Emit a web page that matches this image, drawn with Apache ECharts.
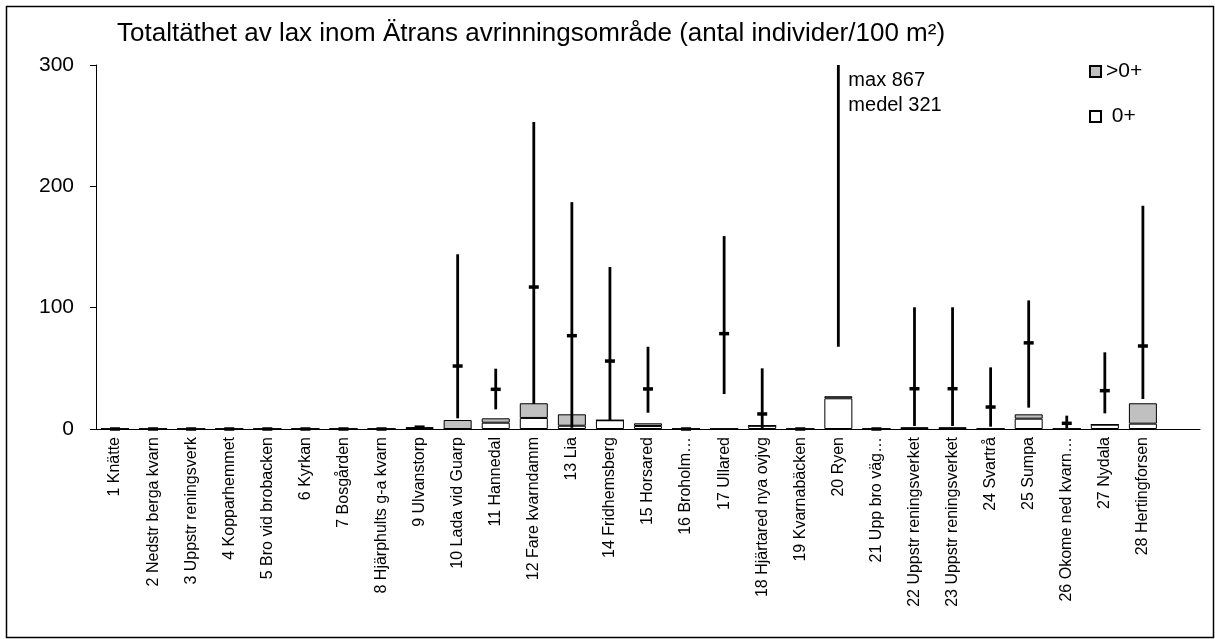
<!DOCTYPE html>
<html>
<head>
<meta charset="utf-8">
<script src="https://cdn.jsdelivr.net/npm/echarts@6/dist/echarts.min.js"></script>
<style>
  html, body { margin: 0; padding: 0; background: #fff; }
  #chart { width: 1215px; height: 639px; }
</style>
</head>
<body>
<div id="chart"></div>
<script>
// Sampling sites along Ätran (last slot left empty so the axis runs on past the final site)
const categories = [
  '1 Knätte', '2 Nedstr berga kvarn', '3 Uppstr reningsverk', '4 Kopparhemmet',
  '5 Bro vid brobacken', '6 Kyrkan', '7 Bosgården', '8 Hjärphults g-a kvarn',
  '9 Ulvanstorp', '10 Lada vid Guarp', '11 Hannedal', '12 Fare kvarndamm',
  '13 Lia', '14 Fridhemsberg', '15 Horsared', '16 Broholm…', '17 Ullared',
  '18 Hjärtared nya ovjvg', '19 Kvarnabäcken', '20 Ryen', '21 Upp bro väg…',
  '22 Uppstr reningsverket', '23 Uppstr reningsverket', '24 Svartrå', '25 Sumpa',
  '26 Okome ned kvarn…', '27 Nydala', '28 Hertingforsen', ''
];

// Density this year (individuals / 100 m²)
const fry = [0, 0, 0, 0, 0, 0, 0, 0, 0.5, 0, 5.2, 9.1, 2.7, 7.2, 2.5, 0, 0, 2.7, 0, 25.3, 0, 0.4, 0.4, 0, 8.5, 0, 3.6, 4.4];
const parr = [0, 0, 0, 0, 0, 0, 0, 0, 1.0, 7.4, 3.6, 12.1, 9.4, 0, 2.2, 0, 0, 0, 0, 1.7, 0, 1.0, 1.0, 0, 3.6, 0, 0, 16.8];

// Historical total density: min, max and mean per site
const histMin = [0, 0, 0, 0, 0, 0, 0, 0, 1.5, 8.8, 16.2, 20.6, 1, 7.2, 13.4, 0, 28.8, 0, 0, 67.8, 0, 2.5, 2.5, 1.9, 17.6, 0.8, 12.9, 24.7];
const histMax = [0, 0, 0, 0, 0, 0, 0, 0, 1.5, 144, 49.7, 253, 187, 133.5, 67.8, 0, 159, 50, 0, 867, 0, 100.3, 100.3, 50.8, 106, 11, 63.2, 184];
const histMean = [0, 0, 0, 0, 0, 0, 0, 0, 1.5, 51.9, 32.7, 117, 76.9, 56, 33, 0, 78.6, 12.4, 0, 321, 0, 33.2, 33.2, 18.1, 71, 4.7, 31.6, 68.4];

const yTicks = [0, 100, 200, 300];
const Y_MAX = yTicks[yTicks.length - 1];

const FONT = "'Liberation Sans', Arial, sans-serif";

const rangeData = histMin.map((lo, i) => [i, lo, histMax[i], histMean[i]]);

// Vertical min–max line with a short crossbar at the mean;
// values above the axis are cut at the top and written out beside the line.
function renderRange(params, api) {
  const i = api.value(0);
  const lo = api.value(1);
  const hi = api.value(2);
  const mean = api.value(3);
  const top = api.coord([i, Math.min(hi, Y_MAX)]);
  const bot = api.coord([i, lo]);
  const children = [{
    type: 'line',
    shape: { x1: bot[0], y1: bot[1], x2: top[0], y2: top[1] },
    style: { stroke: '#000', lineWidth: 2.8 }
  }];
  if (mean <= Y_MAX) {
    const m = api.coord([i, mean]);
    children.push({
      type: 'line',
      shape: { x1: m[0] - 5, y1: m[1], x2: m[0] + 5, y2: m[1] },
      style: { stroke: '#000', lineWidth: 3.5 }
    });
  }
  if (hi > Y_MAX) {
    children.push({
      type: 'text',
      x: top[0] + 10,
      y: top[1] + 3,
      style: {
        text: 'max ' + Math.round(hi) + '\nmedel ' + Math.round(mean),
        fill: '#000',
        font: '20px ' + FONT,
        lineHeight: 25,
        align: 'left',
        verticalAlign: 'top'
      }
    });
  }
  return { type: 'group', children: children };
}

const chart = echarts.init(document.getElementById('chart'), null, { renderer: 'canvas' });

chart.setOption({
  animation: false,
  backgroundColor: '#fff',
  textStyle: { fontFamily: FONT, color: '#000' },
  title: {
    text: 'Totaltäthet av lax inom Ätrans avrinningsområde (antal individer/100 m²)',
    left: 117,
    top: 21,
    padding: 0,
    textStyle: { fontFamily: FONT, fontSize: 26, fontWeight: 'normal', color: '#000' }
  },
  legend: {
    data: ['>0+', '0+'],
    orient: 'vertical',
    left: 1084,
    top: 56,
    itemWidth: 11,
    itemHeight: 11,
    itemGap: 24,
    icon: 'rect',
    formatter: name => (name === '0+' ? ' 0+' : name),
    textStyle: { fontFamily: FONT, fontSize: 21, color: '#000', padding: [0, 0, 0, 0] }
  },
  grid: { left: 96, right: 15, top: 65, bottom: 210, containLabel: false },
  xAxis: {
    type: 'category',
    data: categories,
    axisLine: { lineStyle: { color: '#000', width: 1 } },
    axisTick: { show: false },
    axisLabel: {
      interval: 0,
      rotate: 90,
      margin: 8,
      fontFamily: FONT,
      fontSize: 16,
      color: '#000'
    },
    splitLine: { show: false }
  },
  yAxis: {
    type: 'value',
    min: 0,
    max: Y_MAX,
    interval: 100,
    axisLine: { show: true, lineStyle: { color: '#000', width: 1 } },
    axisTick: { show: true, length: 6, lineStyle: { color: '#000' } },
    axisLabel: { margin: 22, fontFamily: FONT, fontSize: 21, color: '#000' },
    splitLine: { show: false }
  },
  series: [
    {
      name: '0+',
      type: 'bar',
      stack: 'density',
      barWidth: 28,
      data: fry,
      itemStyle: { color: '#ffffff', borderColor: '#000', borderWidth: 1 },
      z: 2
    },
    {
      name: '>0+',
      type: 'bar',
      stack: 'density',
      barWidth: 28,
      data: parr,
      itemStyle: { color: '#c0c0c0', borderColor: '#000', borderWidth: 1 },
      z: 2
    },
    {
      name: 'range',
      type: 'custom',
      renderItem: renderRange,
      data: rangeData,
      encode: { x: 0, y: [1, 2, 3] },
      clip: false,
      z: 5,
      silent: true
    }
  ],
  graphic: [{
    type: 'rect',
    left: 4,
    top: 4,
    shape: { width: 1207, height: 631 },
    style: { fill: 'none', stroke: '#000', lineWidth: 1.5 },
    silent: true,
    z: 100
  }]
});
</script>
</body>
</html>
